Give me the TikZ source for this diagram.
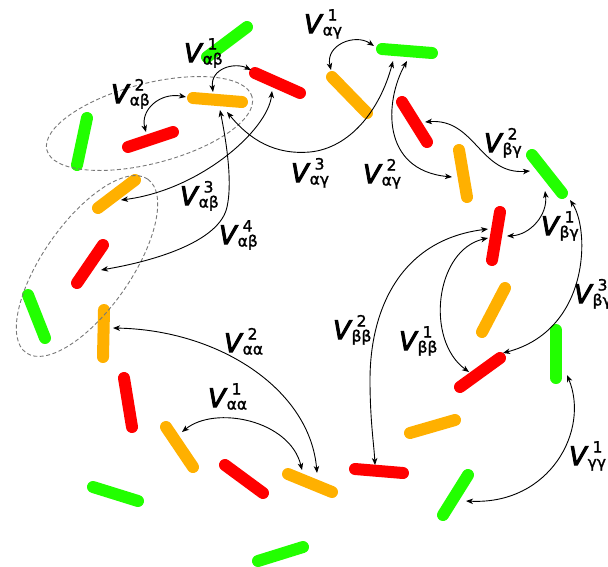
\documentclass[tikz,border=0pt]{standalone}
\usepackage{fontspec}
\setmainfont{DejaVu Sans}
\newfontfamily\vfam[FakeBold=4]{DejaVu Sans}
\newfontfamily\idxfam[FakeBold=1.5]{DejaVu Sans}
\usetikzlibrary{arrows.meta,shapes.geometric}
\definecolor{rodgreen}{RGB}{34,255,0}
\definecolor{rodorange}{RGB}{255,176,0}
\definecolor{rodred}{RGB}{255,0,0}
\definecolor{hullgray}{RGB}{120,120,120}
% interaction potential V with an upper index and a pair of species below
\newcommand\pot[2]{%
  {\vfam\fontsize{25.5}{26}\selectfont\itshape V}%
  \rlap{\kern6pt\raisebox{12.5pt}{\idxfam\fontsize{15.5}{16}\selectfont #1}}%
  \kern1pt\raisebox{-2.5pt}{\idxfam\fontsize{15.5}{16}\selectfont #2}}

\begin{document}
\begin{tikzpicture}[x=1pt,y=-1pt,
  rod/.style={line width=12pt,line cap=round},
  link/.style={{Stealth[length=7pt,width=5.5pt,inset=2pt]}-{Stealth[length=7pt,width=5.5pt,inset=2pt]},line width=0.9pt},
  hull/.style={draw=hullgray,dash pattern=on 4pt off 2.5pt,line width=0.9pt,ellipse,inner sep=0pt},
  potlabel/.style={anchor=base west,inner sep=0pt}]
\useasboundingbox (0,0) rectangle (608,566);

% ---- rods ----
\draw[rod,rodgreen]  (207,57)  -- (247,27);
\draw[rod,rodred]    (255,73)  -- (300,93);
\draw[rod,rodorange] (193,98)  -- (242,102);
\draw[rod,rodred]    (128,147) -- (173,132);
\draw[rod,rodgreen]  (87,118)  -- (77,165);
\draw[rod,rodgreen]  (382,49)  -- (432,53);
\draw[rod,rodorange] (332,77)  -- (367,113);
\draw[rod,rodred]    (402,102) -- (427,142);
\draw[rod,rodorange] (459,150) -- (467,197);
\draw[rod,rodgreen]  (532,155) -- (562,193);
\draw[rod,rodorange] (135,180) -- (98,208);
\draw[rod,rodred]    (103,245) -- (77,283);
\draw[rod,rodgreen]  (28,295)  -- (45,338);
\draw[rod,rodorange] (104,310) -- (103,357);
\draw[rod,rodred]    (500,212) -- (492,260);
\draw[rod,rodorange] (505,288) -- (482,332);
\draw[rod,rodred]    (500,358) -- (460,387);
\draw[rod,rodgreen]  (556,330) -- (556,378);
\draw[rod,rodred]    (124,378) -- (132,427);
\draw[rod,rodorange] (166,427) -- (193,467);
\draw[rod,rodred]    (225,465) -- (263,493);
\draw[rod,rodgreen]  (93,487)  -- (138,501);
\draw[rod,rodorange] (288,474) -- (332,492);
\draw[rod,rodgreen]  (258,561) -- (303,547);
\draw[rod,rodred]    (355,469) -- (403,473);
\draw[rod,rodorange] (410,433) -- (455,420);
\draw[rod,rodgreen]  (468,475) -- (443,515);

% ---- clusters ----
\node[hull,minimum width=212pt,minimum height=80pt,rotate=14.5] (clusterA) at (149.5,123.5) {};
\node[hull,minimum width=212pt,minimum height=88pt,rotate=55] (clusterB) at (87,266) {};

% ---- contact points on the rods ----
\coordinate (oA) at (213,92);   % orange, upper cluster
\coordinate (oAl) at (186,97);
\coordinate (oAb) at (220,110);
\coordinate (oAc) at (227,112);
\coordinate (rA) at (251,70);   % red, upper
\coordinate (rAb) at (272,91);
\coordinate (rC) at (146,132);  % red inside upper cluster
\coordinate (oB) at (121,200);  % orange, lower cluster
\coordinate (rB) at (101,270);  % red, lower cluster
\coordinate (gT) at (374,46);   % green, top right
\coordinate (gTa) at (393,61);
\coordinate (gTb) at (407,61);
\coordinate (oT) at (331,70);   % orange under the green
\coordinate (oM) at (452,177);  % orange, right
\coordinate (rM) at (425,122);  % red, right
\coordinate (gR) at (530,171);  % green, right
\coordinate (gRb) at (545,191);
\coordinate (gRc) at (570,200);
\coordinate (rU) at (507,236);  % upper red of the right column
\coordinate (rUa) at (488,238);
\coordinate (rUb) at (488,229);
\coordinate (rL) at (503,353);  % lower red of the right column
\coordinate (rLa) at (469,372);
\coordinate (rD) at (375,465);  % flat red, bottom
\coordinate (gV) at (567,375);  % upright green
\coordinate (gD) at (466,501);  % slanted green, bottom
\coordinate (oLeft) at (113,328); % upright orange, left
\coordinate (oS) at (182,432);  % slanted orange, bottom left
\coordinate (oF) at (302,470);  % flat orange, bottom
\coordinate (oFb) at (317,473);

% ---- interactions ----
\draw[link] (oA) .. controls (210,68) and (235,62) .. (rA);
\draw[link] (oAl) .. controls (160,92) and (140,110) .. (rC);
\draw[link] (rAb) .. controls (268,130) and (200,190) .. (oB);
\draw[link] (oAb) .. controls (228,150) and (232,185) .. (227,207)
                  .. controls (220,240) and (160,260) .. (rB);
\draw[link] (oAc) .. controls (250,140) and (275,155) .. (310,152)
                  .. controls (350,148) and (380,110) .. (gTa);
\draw[link] (oT) .. controls (325,45) and (355,33) .. (gT);
\draw[link] (gTb) .. controls (385,100) and (380,170) .. (oM);
\draw[link] (rM) .. controls (475,118) and (480,175) .. (gR);
\draw[link] (gRb) .. controls (548,215) and (530,235) .. (rU);
\draw[link] (gRc) .. controls (590,230) and (590,330) .. (rL);
\draw[link] (rUa) .. controls (435,250) and (425,340) .. (rLa);
\draw[link] (rUb) .. controls (400,240) and (370,310) .. (370,380)
                  .. controls (370,420) and (374,445) .. (rD);
\draw[link] (gV) .. controls (590,430) and (550,505) .. (gD);
\draw[link] (oS) .. controls (215,405) and (290,420) .. (oF);
\draw[link] (oLeft) .. controls (220,330) and (310,390) .. (oFb);

% ---- labels ----
\node[potlabel] (lab1) at (184,62)  {\pot{1}{αβ}};
\node[potlabel] (lab2) at (111,103) {\pot{2}{αβ}};
\node[potlabel] (lab3) at (180,205) {\pot{3}{αβ}};
\node[potlabel] (lab4) at (219,244) {\pot{4}{αβ}};
\node[potlabel] (lag1) at (304,33)  {\pot{1}{αγ}};
\node[potlabel] (lag3) at (291,182) {\pot{3}{αγ}};
\node[potlabel] (lag2) at (363,183) {\pot{2}{αγ}};
\node[potlabel] (lbg2) at (484,152) {\pot{2}{βγ}};
\node[potlabel] (lbg1) at (541,235) {\pot{1}{βγ}};
\node[potlabel] (lbg3) at (574,303) {\pot{3}{βγ}};
\node[potlabel] (lbb1) at (399,350) {\pot{1}{ββ}};
\node[potlabel] (lbb2) at (333,339) {\pot{2}{ββ}};
\node[potlabel] (lgg1) at (569,465) {\pot{1}{γγ}};
\node[potlabel] (laa1) at (208,407) {\pot{1}{αα}};
\node[potlabel] (laa2) at (224,352) {\pot{2}{αα}};
\end{tikzpicture}
\end{document}
